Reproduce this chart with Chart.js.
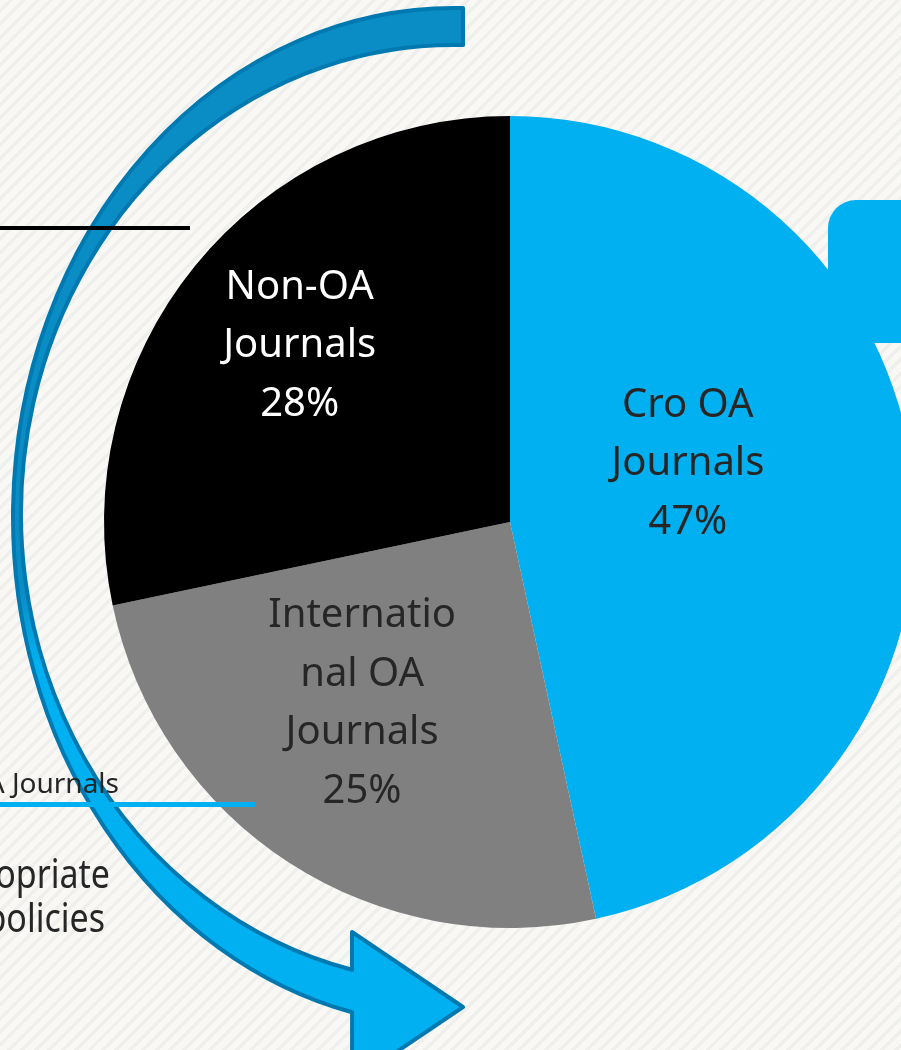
<!DOCTYPE html>
<html>
<head>
<meta charset="utf-8">
<script src="https://cdn.jsdelivr.net/npm/chart.js@4.4.1/dist/chart.umd.min.js"></script>
<style>
  html, body { margin: 0; padding: 0; overflow: hidden; }
  body {
    width: 901px;
    height: 1050px;
    background: repeating-linear-gradient(135deg, #f9f8f5 0px, #f9f8f5 6px, #efefee 6px, #efefee 9.5px);
  }
  .chartBox { width: 930px; height: 1050px; }
</style>
</head>
<body>
<div class="chartBox"><canvas id="pie"></canvas></div>
<script>
// data
const categories = [['Cro OA', 'Journals'], ['Internatio', 'nal OA', 'Journals'], ['Non-OA', 'Journals']];
const shares = [46.6, 25.1, 28.3];
const sliceColors = ['#00b0f0', '#808080', '#000000'];
const labelColors = ['#262626', '#262626', '#ffffff'];

const FONT = '"Noto Sans", "Open Sans", sans-serif';

// labels inside the slices, placed along the slice mid angle
const sliceLabels = {
  id: 'sliceLabels',
  afterDatasetsDraw(chart, args, opts) {
    const ctx = chart.ctx;
    const meta = chart.getDatasetMeta(0);
    ctx.save();
    ctx.font = opts.size + 'px ' + FONT;
    ctx.textAlign = 'center';
    ctx.textBaseline = 'alphabetic';
    meta.data.forEach((arc, i) => {
      const p = arc.getProps(['x', 'y', 'startAngle', 'endAngle', 'outerRadius'], true);
      const ang = (p.startAngle + p.endAngle) / 2 + opts.shift[i] * Math.PI / 180;
      const r = p.outerRadius * opts.radius[i];
      const cx = p.x + Math.cos(ang) * r;
      const cy = p.y + Math.sin(ang) * r;
      const pct = Math.round(chart.data.datasets[0].data[i]) + '%';
      const lines = chart.data.labels[i].concat(pct);
      const top = cy - (lines.length - 1) * opts.lineHeight / 2;
      ctx.fillStyle = labelColors[i];
      lines.forEach((t, k) => {
        ctx.fillText(t, cx, top + k * opts.lineHeight + opts.size * 0.357);
      });
    });
    ctx.restore();
  }
};

// narrow the text a bit, the slide font is a condensed one
function squeezeText(ctx, text, x, y, k) {
  ctx.fillText(text, x, y, ctx.measureText(text).width * k);
}

// slide decorations around the pie
const decor = {
  id: 'decor',
  afterDraw(chart) {
    const ctx = chart.ctx;
    ctx.save();

    // blue box on the right
    ctx.fillStyle = '#00b0f0';
    ctx.beginPath();
    ctx.roundRect(828, 200, 130, 143, 28);
    ctx.fill();

    // curved arrow
    const o = { cx: 454, cy: 517, a: 441, b: 509 };
    const n = { cx: 454, cy: 514, a: 433, b: 469 };
    const grad = ctx.createLinearGradient(0, 0, 0, 1050);
    grad.addColorStop(0, '#0a8cc4');
    grad.addColorStop(0.56, '#0a8cc4');
    grad.addColorStop(0.63, '#00b0f0');
    grad.addColorStop(1, '#00b0f0');
    ctx.beginPath();
    ctx.ellipse(o.cx, o.cy, o.a, o.b, 0, -1.5504, 1.804, true);
    ctx.lineTo(352, 1082);
    ctx.lineTo(463, 1007);
    ctx.lineTo(352, 932);
    ctx.lineTo(352, 970);
    ctx.ellipse(n.cx, n.cy, n.a, n.b, 0, 1.8086, 2 * Math.PI - 1.55, false);
    ctx.closePath();
    ctx.fillStyle = grad;
    ctx.fill();
    ctx.lineJoin = 'round';
    ctx.lineWidth = 4;
    ctx.strokeStyle = '#0079b0';
    ctx.stroke();

    // connector lines
    ctx.fillStyle = '#000000';
    ctx.fillRect(0, 226, 190, 4);
    ctx.fillStyle = '#00b0f0';
    ctx.fillRect(0, 802, 255, 5);

    // cut-off slide text
    ctx.fillStyle = '#262626';
    ctx.textAlign = 'right';
    ctx.textBaseline = 'alphabetic';
    ctx.font = '28px ' + FONT;
    ctx.fillText('OA Journals', 119, 793);
    ctx.font = '40px ' + FONT;
    squeezeText(ctx, 'appropriate', 110, 888, 0.85);
    squeezeText(ctx, 'policies', 105, 932, 0.85);

    ctx.restore();
  }
};

new Chart(document.getElementById('pie'), {
  type: 'pie',
  data: {
    labels: categories,
    datasets: [{
      data: shares,
      backgroundColor: sliceColors,
      borderWidth: 0
    }]
  },
  options: {
    responsive: true,
    maintainAspectRatio: false,
    devicePixelRatio: 1,
    animation: false,
    layout: { padding: { left: 104, right: 14, top: 116, bottom: 122 } },
    plugins: {
      legend: { display: false },
      tooltip: { enabled: false },
      sliceLabels: { size: 40, lineHeight: 58.5, radius: [0.463, 0.571, 0.68], shift: [-12.8, 6.7, 1.3] }
    }
  },
  plugins: [sliceLabels, decor]
});
</script>
</body>
</html>
